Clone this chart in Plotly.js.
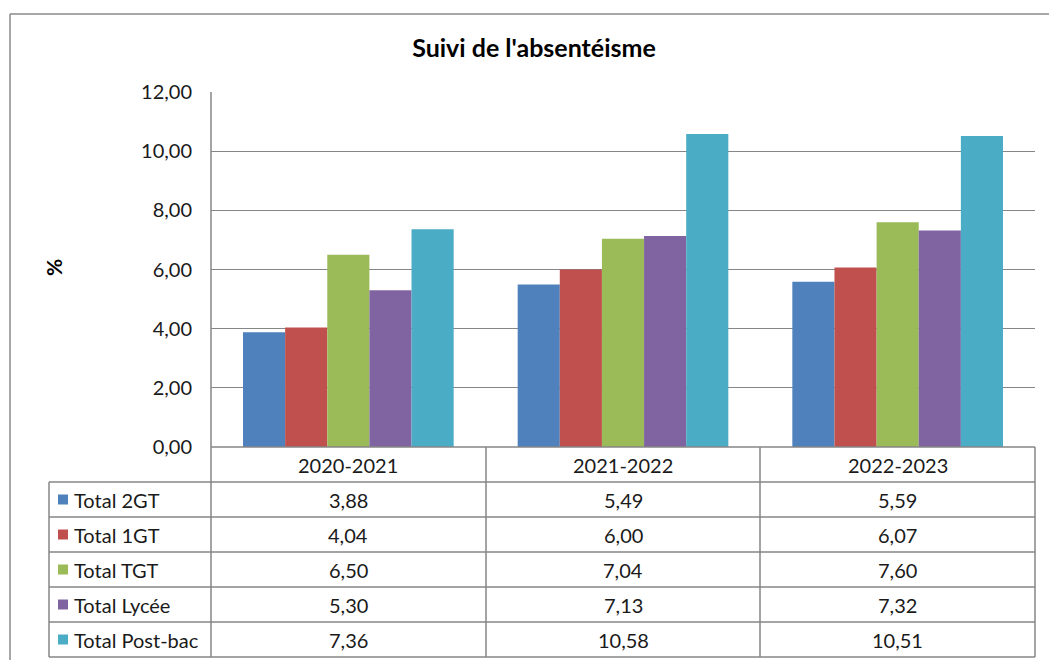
<!DOCTYPE html>
<html>
<head>
<meta charset="utf-8">
<script src="https://cdn.plot.ly/plotly-3.0.1.min.js"></script>
<style>html,body{margin:0;padding:0;background:#fff;}#chart{width:1049px;height:660px;}</style>
</head>
<body>
<div id="chart"></div>
<script>
// ---- data ----
const categories = ['2020-2021', '2021-2022', '2022-2023'];
const seriesNames = ['Total 2GT', 'Total 1GT', 'Total TGT', 'Total Lycée', 'Total Post-bac'];
const total2GT = [3.88, 5.49, 5.59];
const total1GT = [4.04, 6.00, 6.07];
const totalTGT = [6.50, 7.04, 7.60];
const totalLycee = [5.30, 7.13, 7.32];
const totalPostBac = [7.36, 10.58, 10.51];
const seriesValues = [total2GT, total1GT, totalTGT, totalLycee, totalPostBac];
const seriesColors = ['#4F81BD', '#C0504D', '#9BBB59', '#8064A2', '#4BACC6'];
const yTickValues = [0, 2, 4, 6, 8, 10, 12];

// ---- layout geometry (pixels) ----
const L = 211, R = 1035, T = 92, B = 447;
const W = R - L, H = B - T;
const px = v => (v - L) / W;
const py = v => (B - v) / H;
const rowLines = [447, 482, 517, 552, 587, 622, 657];
const colLines = [211, 486, 760, 1035];
const labelLeft = 49;
const gridColor = '#868686';
const fontFam = 'Lato, "Open Sans", sans-serif';
const txtColor = '#1a1a1a';
const fs = 20;
const fmt = v => v.toFixed(2).replace('.', ',');

const traces = seriesNames.map((name, i) => ({
  type: 'bar',
  name: name,
  x: categories,
  y: seriesValues[i],
  marker: {color: seriesColors[i], line: {width: 0}},
  hoverinfo: 'skip'
}));

const shapes = [];
const annotations = [];
const line = (x0, y0, x1, y1, w, c) => shapes.push({
  type: 'line', xref: 'paper', yref: 'paper',
  x0: px(x0), y0: py(y0), x1: px(x1), y1: py(y1),
  line: {color: c || gridColor, width: w || 1.5}, layer: 'above'
});

// outer chart border
line(10, 14, 1060, 14, 1.5, '#8a8a8a');
line(10, 14, 10, 670, 1.5, '#8a8a8a');

// table horizontal lines
line(L, rowLines[0], R, rowLines[0]);
for (let k = 1; k < rowLines.length; k++) line(labelLeft, rowLines[k], R, rowLines[k]);
// table vertical lines
line(L, T, L, rowLines[rowLines.length - 1]);
for (let k = 1; k < colLines.length; k++) line(colLines[k], rowLines[0], colLines[k], rowLines[rowLines.length - 1]);
line(labelLeft, rowLines[1], labelLeft, rowLines[rowLines.length - 1]);

// header row: categories
categories.forEach((c, j) => annotations.push({
  xref: 'x', yref: 'paper', x: j, y: py((rowLines[0] + rowLines[1]) / 2),
  text: c, showarrow: false, xanchor: 'center', yanchor: 'middle',
  font: {family: fontFam, size: fs, color: txtColor}
}));

// data rows
seriesNames.forEach((name, i) => {
  const yc = (rowLines[i + 1] + rowLines[i + 2]) / 2;
  shapes.push({
    type: 'rect', xref: 'paper', yref: 'paper',
    x0: px(58), x1: px(68), y0: py(yc - 5), y1: py(yc + 5),
    fillcolor: seriesColors[i], line: {width: 0}, layer: 'above'
  });
  annotations.push({
    xref: 'paper', yref: 'paper', x: px(72), y: py(yc),
    text: name, showarrow: false, xanchor: 'left', yanchor: 'middle',
    font: {family: fontFam, size: fs, color: txtColor}
  });
  seriesValues[i].forEach((v, j) => annotations.push({
    xref: 'x', yref: 'paper', x: j, y: py(yc),
    text: fmt(v), showarrow: false, xanchor: 'center', yanchor: 'middle',
    font: {family: fontFam, size: fs, color: txtColor}
  }));
});

// y-axis title "%"
annotations.push({
  xref: 'paper', yref: 'paper', x: px(53), y: py(268),
  text: '<b>%</b>', showarrow: false, textangle: -90,
  xanchor: 'center', yanchor: 'middle',
  font: {family: fontFam, size: 21, color: '#000'}
});

const layout = {
  width: 1049, height: 660,
  margin: {l: L, r: 1049 - R, t: T, b: 660 - B, pad: 0},
  paper_bgcolor: '#ffffff', plot_bgcolor: '#ffffff',
  separators: ', ',
  showlegend: false,
  barmode: 'group',
  bargap: 0.233,
  bargroupgap: 0,
  title: {
    text: "<b>Suivi de l'absentéisme</b>",
    x: 534 / 1049, xref: 'container', xanchor: 'center',
    y: 1 - 48 / 660, yref: 'container', yanchor: 'middle',
    font: {family: fontFam, size: 25, color: '#000'}
  },
  xaxis: {
    type: 'category', range: [-0.5, 2.5],
    showticklabels: false, showgrid: false, zeroline: false, showline: false, ticks: ''
  },
  yaxis: {
    range: [0, 12], tickvals: yTickValues, tickformat: '.2f',
    showgrid: true, gridcolor: gridColor, gridwidth: 1.2,
    zeroline: false, showline: false, ticks: '',
    ticklabelstandoff: 18,
    tickfont: {family: fontFam, size: fs, color: txtColor}
  },
  shapes: shapes,
  annotations: annotations,
  font: {family: fontFam, color: txtColor}
};

Plotly.newPlot('chart', traces, layout, {displayModeBar: false, staticPlot: true});
</script>
</body>
</html>
